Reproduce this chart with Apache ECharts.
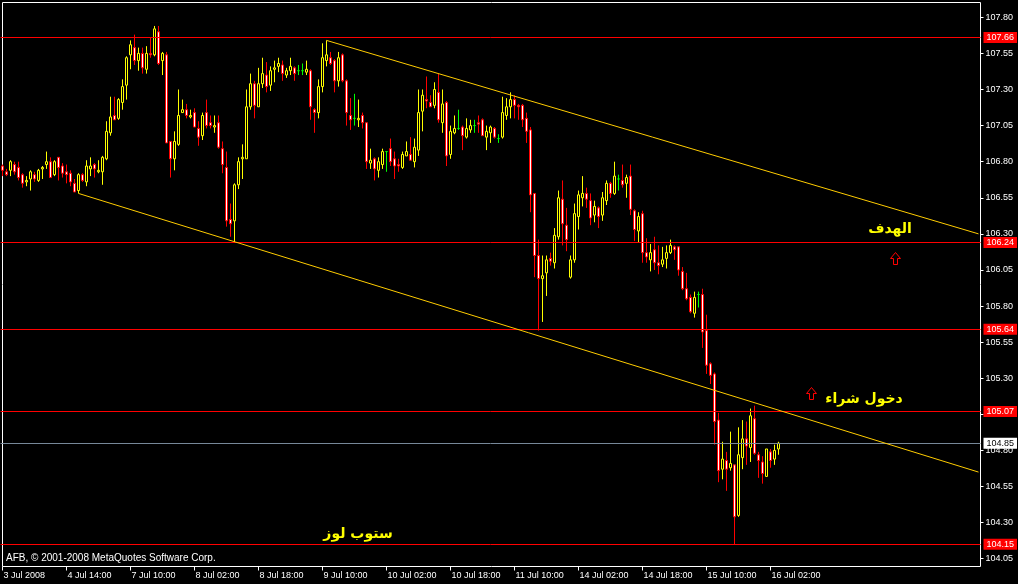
<!DOCTYPE html>
<html><head><meta charset="utf-8">
<script src="https://cdn.jsdelivr.net/npm/echarts@6/dist/echarts.min.js"></script>
<style>html,body{margin:0;padding:0;background:#000;}#c{width:1018px;height:584px;}</style>
</head><body><div id="c"></div>
<script>
// ---- data (USDJPY H1, MetaTrader) ----
const tickLabels = ['3 Jul 2008','4 Jul 14:00','7 Jul 10:00','8 Jul 02:00','8 Jul 18:00','9 Jul 10:00','10 Jul 02:00','10 Jul 18:00','11 Jul 10:00','14 Jul 02:00','14 Jul 18:00','15 Jul 10:00','16 Jul 02:00'];
const barsPerTick = 16;
const totalSlots = 245; // bars + empty chart shift on the right
const priceTicks = [104.05,104.30,104.55,104.80,105.05,105.30,105.55,105.80,106.05,106.30,106.55,106.80,107.05,107.30,107.55,107.80];

const opens = [
106.77,106.73,106.74,106.78,106.76,106.71,106.66,106.68,106.71,106.67,
106.75,106.78,106.80,106.71,106.83,106.77,106.73,106.72,106.65,106.60,
106.71,106.66,106.75,106.78,106.73,106.73,106.82,107.00,107.12,107.10,
107.21,107.33,107.54,107.59,107.50,107.55,107.44,107.55,107.54,107.70,
107.50,107.54,106.94,106.82,106.92,107.14,107.16,107.11,107.14,107.03,
106.98,107.14,107.07,107.04,107.07,106.89,106.76,106.40,106.39,106.64,
106.82,106.82,107.18,107.34,107.18,107.34,107.40,107.33,107.44,107.46,
107.47,107.40,107.43,107.45,107.43,107.43,107.42,107.43,107.16,107.14,
107.32,107.50,107.52,107.50,107.36,107.54,107.36,107.12,107.10,107.09,
107.12,107.07,106.79,106.82,106.74,106.78,106.87,106.89,106.82,106.78,
106.76,106.84,106.85,106.80,106.88,107.15,107.23,107.21,107.19,107.28,
107.07,107.21,106.85,107.00,107.03,107.04,106.97,107.02,107.05,107.07,
107.09,106.97,107.00,107.03,106.96,106.97,107.12,107.18,107.23,107.19,
107.19,107.10,107.02,106.58,106.15,105.99,106.03,106.13,106.10,106.28,
106.54,106.36,106.00,106.12,106.42,106.55,106.58,106.53,106.43,106.48,
106.43,106.53,106.65,106.58,106.68,106.67,106.65,106.70,106.46,106.32,
106.44,106.17,106.12,106.19,106.10,106.09,106.13,106.17,106.21,106.21,
106.04,105.92,105.86,105.75,105.88,105.88,105.63,105.40,105.33,105.01,
104.67,104.73,104.68,104.70,104.35,104.75,104.88,104.82,105.02,104.77,
104.72,104.62,104.79,104.74,104.81];
const closes = [
106.74,106.71,106.80,106.73,106.69,106.65,106.67,106.73,106.68,106.74,
106.76,106.80,106.69,106.80,106.76,106.72,106.71,106.66,106.59,106.71,
106.67,106.77,106.77,106.75,106.74,106.83,107.01,107.11,107.09,107.23,
107.32,107.52,107.61,107.50,107.55,107.45,107.55,107.54,107.72,107.48,
107.55,106.93,106.82,106.94,107.12,107.16,107.12,107.12,107.04,106.97,
107.12,107.05,107.05,107.05,106.90,106.78,106.39,106.37,106.64,106.80,
106.83,107.18,107.34,107.19,107.34,107.41,107.32,107.43,107.45,107.48,
107.41,107.43,107.46,107.41,107.43,107.43,107.44,107.18,107.14,107.32,
107.52,107.54,107.48,107.36,107.52,107.36,107.14,107.09,107.10,107.10,
107.07,106.80,106.81,106.75,106.80,106.87,106.87,106.80,106.77,106.77,
106.85,106.87,106.81,106.90,107.14,107.26,107.22,107.18,107.30,107.09,
107.20,106.84,107.01,107.03,107.03,106.98,107.03,107.05,107.05,107.06,
106.98,107.01,107.04,106.97,106.96,107.14,107.18,107.23,107.19,107.18,
107.09,107.01,106.57,106.15,105.99,106.01,106.12,106.11,106.29,106.55,
106.37,106.26,106.12,106.44,106.57,106.58,106.54,106.41,106.49,106.42,
106.55,106.65,106.58,106.70,106.68,106.64,106.69,106.47,106.33,106.42,
106.17,106.14,106.17,106.10,106.08,106.12,106.17,106.22,106.19,106.05,
105.92,105.85,105.76,105.86,105.88,105.62,105.39,105.32,105.00,104.66,
104.74,104.67,104.71,104.34,104.77,104.88,104.83,105.04,104.78,104.73,
104.64,104.81,104.73,104.80,104.85];
const lows = [
106.70,106.70,106.70,106.71,106.67,106.62,106.63,106.60,106.66,106.66,
106.68,106.75,106.69,106.70,106.67,106.69,106.65,106.63,106.59,106.58,
106.66,106.63,106.70,106.69,106.72,106.64,106.81,106.98,107.09,107.09,
107.16,107.23,107.44,107.47,107.43,107.41,107.41,107.52,107.53,107.47,
107.40,106.93,106.69,106.74,106.91,107.14,107.10,107.10,107.04,106.91,
106.95,107.03,107.03,107.00,106.89,106.72,106.35,106.28,106.24,106.61,
106.68,106.82,107.16,107.10,107.18,107.31,107.28,107.29,107.35,107.42,
107.36,107.38,107.40,107.36,107.40,107.40,107.40,107.09,107.00,107.10,
107.28,107.46,107.47,107.28,107.32,107.35,107.05,107.02,107.05,107.04,
107.03,106.75,106.75,106.67,106.69,106.75,106.73,106.77,106.68,106.73,
106.75,106.84,106.81,106.76,106.84,107.01,107.17,107.18,107.17,107.07,
107.00,106.77,106.82,106.99,107.02,106.88,106.96,107.00,107.00,107.00,
106.98,106.88,106.93,106.96,106.93,106.96,107.09,107.10,107.10,107.09,
107.04,106.93,106.45,106.00,105.63,105.69,105.87,106.08,106.06,106.26,
106.22,106.18,105.99,106.10,106.33,106.49,106.48,106.36,106.38,106.34,
106.39,106.50,106.55,106.57,106.60,106.62,106.55,106.43,106.25,106.24,
106.10,106.10,106.04,106.05,106.02,106.07,106.06,106.16,106.12,106.01,
105.91,105.84,105.75,105.72,105.79,105.51,105.33,105.26,104.84,104.58,
104.60,104.52,104.66,104.15,104.34,104.67,104.70,104.72,104.77,104.61,
104.57,104.62,104.68,104.70,104.77];
const highs = [
106.78,106.75,106.81,106.80,106.80,106.72,106.70,106.74,106.73,106.75,
106.77,106.87,106.83,106.81,106.83,106.79,106.78,106.74,106.68,106.72,
106.72,106.81,106.83,106.79,106.81,106.84,107.08,107.25,107.25,107.24,
107.37,107.53,107.64,107.68,107.59,107.59,107.60,107.66,107.74,107.74,
107.56,107.56,106.94,107.01,107.30,107.23,107.20,107.16,107.17,107.08,
107.14,107.23,107.12,107.12,107.12,106.94,106.87,106.51,106.65,106.83,
106.92,107.30,107.41,107.36,107.45,107.52,107.49,107.46,107.50,107.52,
107.50,107.45,107.52,107.46,107.47,107.48,107.50,107.44,107.17,107.37,
107.62,107.64,107.56,107.51,107.56,107.55,107.37,107.24,107.27,107.23,
107.14,107.07,106.89,106.83,106.83,106.89,106.87,106.96,106.87,106.82,
106.87,106.94,106.97,106.96,107.30,107.30,107.39,107.26,107.35,107.41,
107.30,107.22,107.05,107.12,107.16,107.05,107.10,107.09,107.09,107.12,
107.10,107.05,107.05,107.04,106.99,107.25,107.24,107.28,107.26,107.20,
107.20,107.14,107.04,106.58,106.26,106.15,106.15,106.17,106.34,106.60,
106.67,106.48,106.15,106.51,106.60,106.70,106.62,106.58,106.53,106.49,
106.59,106.67,106.66,106.80,106.71,106.78,106.71,106.78,106.47,106.45,
106.46,106.27,106.23,106.28,106.22,106.21,106.22,106.26,106.22,106.21,
106.07,106.03,105.88,105.90,105.90,105.92,105.74,105.41,105.34,105.06,
104.86,104.79,104.93,104.70,104.96,105.01,105.00,105.09,105.11,104.79,
104.76,104.81,104.81,104.84,104.86];

const levels = [107.66, 106.24, 105.64, 105.07, 104.15];   // red horizontal lines
const bidPrice = 104.85;                                    // current price line
const upperTrend = [[81, 107.64], [244, 106.30]];           // [bar index, price]
const lowerTrend = [[19, 106.58], [244, 104.65]];
const copyright = 'AFB, © 2001-2008 MetaQuotes Software Corp.';
const notes = ['الهدف', 'دخول شراء', 'ستوب لوز'];

// ---- chart ----
const FONT = '"Liberation Sans", Arial, sans-serif';
const categories = Array.from({length: totalSlots}, (_, i) => String(i));
const isTick = i => i % barsPerTick === 0 && i / barsPerTick < tickLabels.length;
const candleData = opens.map((o, i) => {
  const v = [o, closes[i], lows[i], highs[i]];
  return o === closes[i]
    ? {value: v, itemStyle: {borderColor: '#00ff00', borderColor0: '#00ff00', color: '#00ff00', color0: '#00ff00'}}
    : v;
});

const levelLine = (v, color, bg, fg) => ({
  yAxis: v,
  lineStyle: {color: color, width: 1, type: 'solid'},
  label: {show: true, position: 'end', distance: 3, formatter: v.toFixed(2), color: fg,
          backgroundColor: bg, padding: [1, 3, 0, 3], fontSize: 9, fontFamily: FONT, lineHeight: 10}
});
const trendLine = pts => [
  {coord: pts[0], lineStyle: {color: '#FFCC00', width: 1, type: 'solid'}, label: {show: false}},
  {coord: pts[1]}
];

const arrow = (x, y) => ({
  type: 'polygon', x: x, y: y, silent: true, z: 10,
  shape: {points: [[5, 0], [10, 6], [7, 6], [7, 12], [3, 12], [3, 6], [0, 6]]},
  style: {fill: '#000', stroke: '#ff0000', lineWidth: 1}
});
const note = (t, x, y) => ({
  type: 'text', x: x, y: y, silent: true, z: 10,
  style: {text: t, fill: '#ffff00', font: 'bold 14px "DejaVu Sans", sans-serif', align: 'center', verticalAlign: 'middle'}
});

const chart = echarts.init(document.getElementById('c'), null, {renderer: 'canvas'});
chart.setOption({
  backgroundColor: '#000',
  animation: false,
  grid: {left: 0.5, top: 2.5, width: 980, height: 564, containLabel: false},
  xAxis: {
    type: 'category', data: categories, boundaryGap: true,
    axisLine: {show: false},
    axisTick: {show: true, alignWithLabel: true, interval: i => isTick(i), length: 4, lineStyle: {color: '#ffffff'}},
    axisLabel: {interval: i => isTick(i), formatter: (v, i) => tickLabels[i / barsPerTick] || '',
                color: '#ffffff', fontFamily: FONT, fontSize: 9, align: 'left', margin: 5, padding: [0, 0, 0, 1]},
    splitLine: {show: false}
  },
  yAxis: {
    type: 'value', position: 'right', min: 103.996, max: 107.9025,
    axisLine: {show: false},
    axisTick: {show: true, customValues: priceTicks, length: 3, lineStyle: {color: '#ffffff'}},
    axisLabel: {customValues: priceTicks, formatter: v => v.toFixed(2), color: '#ffffff', fontFamily: FONT, fontSize: 9, margin: 5},
    splitLine: {show: false}
  },
  series: [{
    type: 'candlestick',
    data: candleData,
    barWidth: 2,
    clip: false,
    itemStyle: {color: '#000000', color0: '#ffffff', borderColor: '#ffff00', borderColor0: '#ff0000', borderColorDoji: '#00ff00', borderWidth: 1},
    emphasis: {disabled: true},
    markLine: {
      silent: true, symbol: 'none', animation: false,
      emphasis: {disabled: true},
      data: levels.map(v => levelLine(v, '#ff0000', '#ff0000', '#ffffff'))
        .concat([levelLine(bidPrice, '#778899', '#ffffff', '#000000')])
        .concat([trendLine(upperTrend), trendLine(lowerTrend)])
    }
  }],
  graphic: [
    {type: 'rect', silent: true, z: -1, shape: {x: 2.5, y: 2.5, width: 978, height: 564}, style: {fill: 'none', stroke: '#ffffff', lineWidth: 1}},
    {type: 'text', x: 6, y: 558, silent: true, style: {text: copyright, fill: '#ffffff', font: '10px ' + FONT, align: 'left', verticalAlign: 'middle'}},
    note(notes[0], 890, 229),
    note(notes[1], 864, 399),
    note(notes[2], 358, 534),
    arrow(890.5, 252.5),
    arrow(806.5, 387.5)
  ]
});
</script></body></html>
